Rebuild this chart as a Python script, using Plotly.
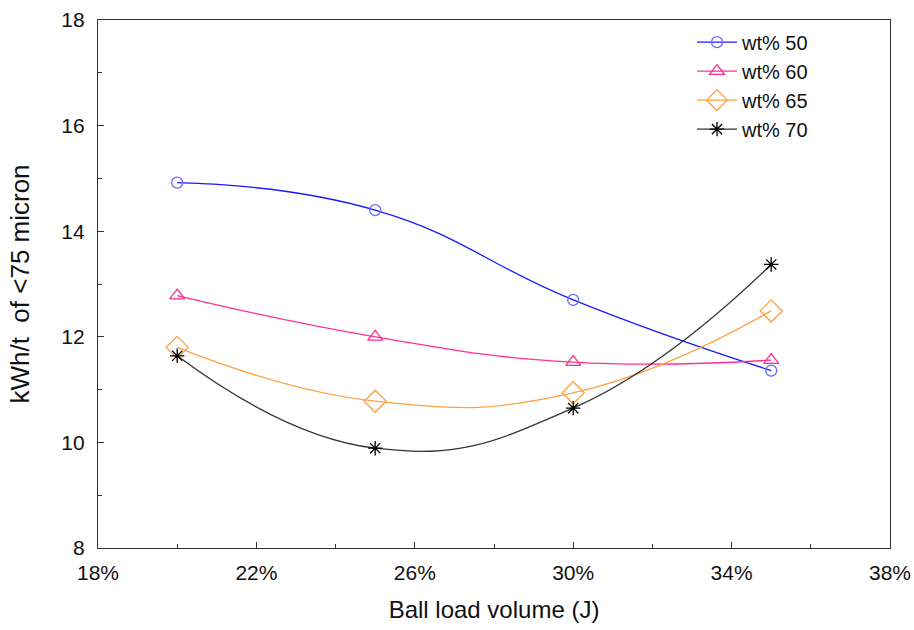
import plotly.graph_objects as go

ball_load = [0.20, 0.25, 0.30, 0.35]
wt50 = [14.92, 14.40, 12.70, 11.36]
wt60 = [12.78, 12.00, 11.52, 11.56]
wt65 = [11.80, 10.78, 10.94, 12.49]
wt70 = [11.64, 9.89, 10.65, 13.37]
series_names = ["wt% 50", "wt% 60", "wt% 65", "wt% 70"]

styles = [
    dict(line="#1a1aff", marker="#6a6aff", symbol="circle-open", size=11),
    dict(line="#ff2f8f", marker="#ff2f8f", symbol="triangle-up-open", size=13),
    dict(line="#ffa040", marker="#ffa040", symbol="diamond-open", size=17),
    dict(line="#333333", marker="#000000", symbol="asterisk-open", size=12),
]

fig = go.Figure()
for name, vals, st in zip(series_names, [wt50, wt60, wt65, wt70], styles):
    fig.add_trace(go.Scatter(
        x=ball_load, y=vals, name=name, mode="lines+markers",
        line=dict(color=st["line"], width=1.3, shape="spline", smoothing=1.3),
        marker=dict(symbol=st["symbol"], size=st["size"], color=st["marker"],
                    line=dict(color=st["marker"], width=1.3)),
    ))

font_family = "Liberation Sans, Arial, sans-serif"
fig.update_layout(
    width=914, height=630,
    margin=dict(l=98, r=24, t=20, b=82),
    paper_bgcolor="white", plot_bgcolor="white",
    font=dict(family=font_family, color="#111111", size=21),
    showlegend=True,
    legend=dict(x=0.75, y=0.995, xanchor="left", yanchor="top",
                bgcolor="rgba(0,0,0,0)", font=dict(size=20),
                tracegroupgap=0, itemwidth=40),
    xaxis=dict(
        range=[0.18, 0.38], dtick=0.04, tick0=0.18, tickformat=".0%",
        showgrid=False, zeroline=False, showline=True, linecolor="#333",
        linewidth=1.3, mirror=True, ticks="inside", ticklen=6, tickcolor="#333",
        minor=dict(dtick=0.02, ticks="inside", ticklen=4, tickcolor="#333"),
        title=dict(text="Ball load volume (J)", font=dict(size=24), standoff=17),
        tickfont=dict(size=21), ticklabelstandoff=6, automargin=False,
    ),
    yaxis=dict(
        range=[8, 18], dtick=2, showgrid=False, zeroline=False, showline=True,
        linecolor="#333", linewidth=1.3, mirror=True, ticks="inside", ticklen=6,
        tickcolor="#333",
        minor=dict(dtick=1, ticks="inside", ticklen=4, tickcolor="#333"),
        title=dict(text="kWh/t  of <75 micron", font=dict(size=26), standoff=24),
        tickfont=dict(size=21), ticklabelstandoff=8, automargin=False,
    ),
)
fig.write_html("out.html", post_script="document.body.style.margin='0';",
               config={"displayModeBar": False})
